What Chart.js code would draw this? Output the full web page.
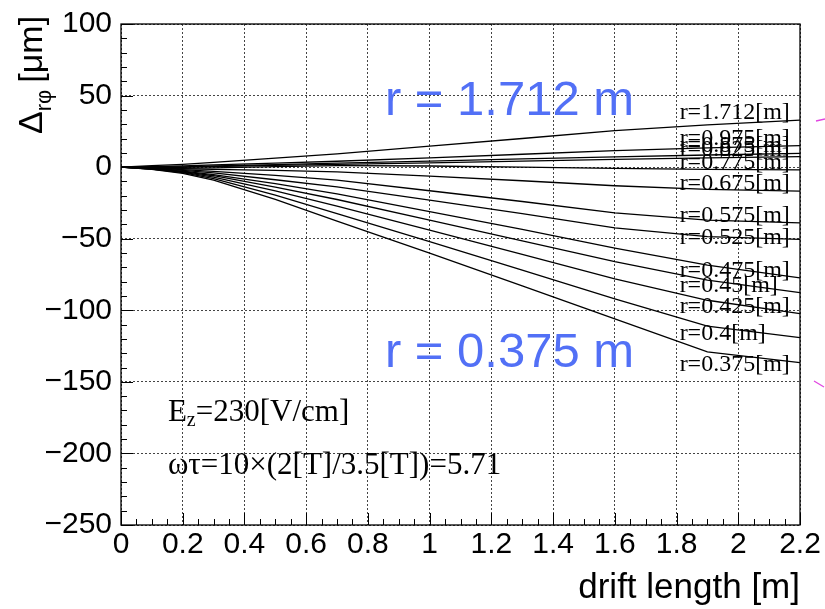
<!DOCTYPE html>
<html>
<head>
<meta charset="utf-8">
<script src="https://cdn.jsdelivr.net/npm/chart.js@4.4.0/dist/chart.umd.min.js"></script>
<style>
  html, body { margin: 0; padding: 0; background: #fff; }
  #wrap { width: 825px; height: 609px; }
</style>
</head>
<body>
<div id="wrap"><canvas id="myChart" width="825" height="609"></canvas></div>
<script>
// drift length [m] sample points shared by all curves
const drift = [0, 0.1, 0.2, 0.3, 0.5, 0.7, 1.0, 1.3, 1.6, 1.9, 2.2];

// radius of each curve, top to bottom at the right edge
const radii = ['1.712', '0.975', '0.875', '0.825', '0.775', '0.675', '0.575', '0.525', '0.475', '0.45', '0.425', '0.4', '0.375'];

// delta r-phi [um]
const r1712 = [0, 1.0, 2.0, 3.4, 6.3, 9.2, 14.7, 20.0, 25.5, 29.5, 32.8];
const r0975 = [0, 0.3, 0.8, 1.6, 2.8, 4.1, 6.5, 9.0, 11.5, 13.5, 15.1];
const r0875 = [0, 0.0, 0.2, 0.8, 1.8, 2.8, 4.2, 5.8, 7.2, 8.5, 9.6];
const r0825 = [0, -0.2, -0.2, 0.3, 1.2, 1.9, 3.0, 4.2, 5.4, 6.5, 7.3];
const r0775 = [0, -0.4, -0.8, -0.5, 0.4, 1.0, 0.8, 0.0, -0.8, -1.5, -1.9];
const r0675 = [0, -0.5, -1.2, -1.5, -2.3, -3.3, -6.3, -9.5, -13.0, -15.5, -16.7];
const r0575 = [0, -0.7, -1.8, -3.0, -5.8, -9.0, -16.5, -24.0, -32.0, -37.0, -38.9];
const r0525 = [0, -0.9, -2.3, -4.0, -8.8, -13.8, -23.0, -32.5, -42.5, -48.5, -50.5];
const r0475 = [0, -1.1, -2.8, -5.2, -11.5, -18.6, -31.0, -43.5, -56.5, -68.5, -77.3];
const r0450 = [0, -1.2, -3.1, -6.0, -14.0, -22.6, -37.0, -51.5, -66.0, -79.0, -87.7];
const r0425 = [0, -1.3, -3.5, -7.0, -16.5, -27.2, -44.0, -61.0, -78.0, -93.0, -102.4];
const r0400 = [0, -1.4, -3.9, -8.0, -19.5, -32.4, -52.0, -72.0, -92.0, -111.0, -119.1];
const r0375 = [0, -1.5, -4.3, -9.0, -22.5, -37.7, -60.0, -83.0, -106.0, -129.0, -136.6];

const series = [r1712, r0975, r0875, r0825, r0775, r0675, r0575, r0525, r0475, r0450, r0425, r0400, r0375];

const fmtMinus = v => (v < 0 ? '\u2212' + Math.abs(v) : String(v));

// frame, inward ticks, curve labels and annotations (ROOT style)
const rootDecor = {
  id: 'rootDecor',
  afterDatasetsDraw(chart) {
    const ctx = chart.ctx;
    const a = chart.chartArea;
    const xs = chart.scales.x;
    const ys = chart.scales.y;
    ctx.save();

    // curve labels at the right end (a few sit a bit lower in the original)
    const nudge = { '0.525': 6, '0.4': 3, '0.375': 9 };
    ctx.fillStyle = '#000';
    ctx.font = '24px "Liberation Serif"';
    ctx.textAlign = 'left';
    ctx.textBaseline = 'alphabetic';
    series.forEach((s, i) => {
      const yEnd = ys.getPixelForValue(s[s.length - 1]) + (nudge[radii[i]] || 0);
      ctx.fillText('r=' + radii[i] + '[m]', xs.getPixelForValue(1.81), yEnd - 1);
    });

    // frame
    ctx.strokeStyle = '#000';
    ctx.lineWidth = 1.3;
    ctx.strokeRect(a.left, a.top, a.right - a.left, a.bottom - a.top);

    // inward ticks on the y axis
    ctx.lineWidth = 1;
    for (let v = -250; v <= 100; v += 10) {
      const y = Math.round(ys.getPixelForValue(v)) + 0.5;
      const len = v % 50 === 0 ? 12 : 6;
      ctx.beginPath();
      ctx.moveTo(a.left, y);
      ctx.lineTo(a.left + len, y);
      ctx.stroke();
    }
    // inward ticks on the x axis
    for (let k = 0; k <= 44; k++) {
      const x = Math.round(xs.getPixelForValue(k * 0.05)) + 0.5;
      const len = k % 4 === 0 ? 12 : 6;
      ctx.beginPath();
      ctx.moveTo(x, a.bottom);
      ctx.lineTo(x, a.bottom - len);
      ctx.stroke();
    }

    // big blue annotations
    ctx.fillStyle = 'rgb(82,112,246)';
    ctx.font = '49px "Liberation Sans"';
    ctx.textBaseline = 'middle';
    ctx.fillText('r = 1.712 m', xs.getPixelForValue(0.855), ys.getPixelForValue(46));
    ctx.fillText('r = 0.375 m', xs.getPixelForValue(0.855), ys.getPixelForValue(-130));

    // E_z and omega tau text
    ctx.fillStyle = '#000';
    ctx.textBaseline = 'alphabetic';
    let x0 = xs.getPixelForValue(0.152);
    let yb = ys.getPixelForValue(-177.5);
    ctx.font = '31px "Liberation Serif"';
    ctx.fillText('E', x0, yb);
    let w = ctx.measureText('E').width;
    ctx.font = '20px "Liberation Serif"';
    ctx.fillText('z', x0 + w, yb + 5);
    w += ctx.measureText('z').width;
    ctx.font = '31px "Liberation Serif"';
    ctx.fillText('=230[V/cm]', x0 + w, yb);
    ctx.fillText('\u03c9\u03c4=10\u00d7(2[T]/3.5[T])=5.71', x0, ys.getPixelForValue(-214.5));

    // y axis title with subscript
    ctx.save();
    ctx.translate(42, 134);
    ctx.rotate(-Math.PI / 2);
    ctx.font = '34px "Liberation Sans"';
    ctx.fillText('\u0394', 0, 0);
    let tw = ctx.measureText('\u0394').width;
    ctx.font = '22px "Liberation Sans"';
    ctx.fillText('r\u03c6', tw, 9);
    tw += ctx.measureText('r\u03c6').width + 7;
    ctx.font = '34px "Liberation Sans"';
    ctx.fillText('[\u03bcm]', tw, 0);
    ctx.restore();

    // x axis title, right aligned
    ctx.font = '35px "Liberation Sans"';
    ctx.textAlign = 'right';
    ctx.fillText('drift length [m]', a.right, 598);

    // magenta marks in the right margin
    ctx.strokeStyle = 'rgb(225,70,225)';
    ctx.lineWidth = 1.3;
    ctx.beginPath();
    ctx.moveTo(816, 121); ctx.lineTo(825, 119);
    ctx.moveTo(814, 381); ctx.lineTo(824, 387);
    ctx.stroke();

    ctx.restore();
  }
};

new Chart(document.getElementById('myChart'), {
  type: 'line',
  data: {
    datasets: series.map((s, i) => ({
      label: 'r=' + radii[i] + '[m]',
      data: drift.map((x, j) => ({ x: x, y: s[j] })),
      borderColor: '#000',
      borderWidth: 1.3,
      pointRadius: 0,
      tension: 0,
      fill: false
    }))
  },
  options: {
    responsive: false,
    animation: false,
    layout: { padding: { left: 0, top: 23, right: 25, bottom: 0 } },
    plugins: { legend: { display: false }, tooltip: { enabled: false } },
    scales: {
      x: {
        type: 'linear',
        min: 0,
        max: 2.2,
        afterFit: s => { s.height = 84; },
        ticks: {
          stepSize: 0.2,
          autoSkip: false,
          maxRotation: 0,
          padding: 2,
          color: '#000',
          font: { family: 'Liberation Sans', size: 30, lineHeight: 1.2 },
          callback: v => String(Math.round(v * 10) / 10)
        },
        grid: { color: '#444', lineWidth: 1, drawTicks: false },
        border: { display: false, dash: [2, 2] }
      },
      y: {
        min: -250,
        max: 100,
        afterFit: s => { s.width = 121; },
        ticks: {
          stepSize: 50,
          padding: 9,
          color: '#000',
          font: { family: 'Liberation Sans', size: 30, lineHeight: 1.0 },
          callback: v => fmtMinus(v)
        },
        grid: { color: '#444', lineWidth: 1, drawTicks: false },
        border: { display: false, dash: [2, 2] }
      }
    }
  },
  plugins: [rootDecor]
});
</script>
</body>
</html>
